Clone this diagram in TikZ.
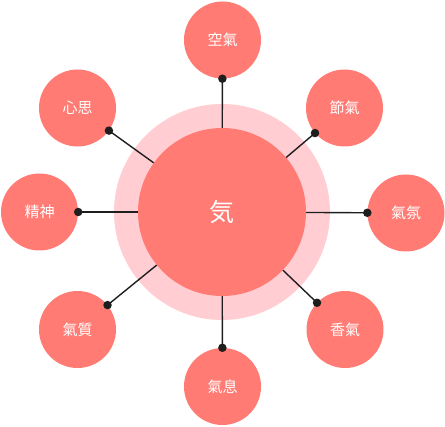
\documentclass[tikz,border=0pt]{standalone}
\usepackage{fontspec}
\newfontfamily\cjk{Noto Sans CJK JP}
\definecolor{satfill}{HTML}{FF7B74}
\definecolor{halofill}{HTML}{FFCDD2}
\definecolor{ink}{HTML}{1E1E1E}
\tikzset{
  satnode/.style={circle, fill=satfill, minimum size=77pt, inner sep=0pt, text=white, font=\cjk\fontsize{15}{18}\selectfont},
  mainnode/.style={circle, fill=satfill, minimum size=168pt, inner sep=0pt, text=white, font=\cjk\fontsize{25}{30}\selectfont},
  link/.style={draw=ink, line width=1.4pt},
  dotnode/.style={circle, fill=ink, minimum size=8.5pt, inner sep=0pt}
}
\begin{document}
\begin{tikzpicture}[x=1pt,y=-1pt]
\useasboundingbox (0,0) rectangle (445,427);
\fill[halofill] (222,212) circle[radius=108pt];
\node[mainnode] (main) at (222,212) {気};
\node[satnode] (s1) at (222.5,40) {空氣};
\node[satnode] (s2) at (344.5,108) {節氣};
\node[satnode] (s3) at (406,213) {氣氛};
\node[satnode] (s4) at (345,329.5) {香氣};
\node[satnode] (s5) at (222.5,386.5) {氣息};
\node[satnode] (s6) at (77.5,329.5) {氣質};
\node[satnode] (s7) at (39.5,212) {精神};
\node[satnode] (s8) at (77.5,108) {心思};
\foreach \s in {s1,s2,s3,s4,s5,s6,s7,s8}{
  \draw[link] (main) -- node[dotnode, pos=1]{} (\s);
}
\end{tikzpicture}
\end{document}
